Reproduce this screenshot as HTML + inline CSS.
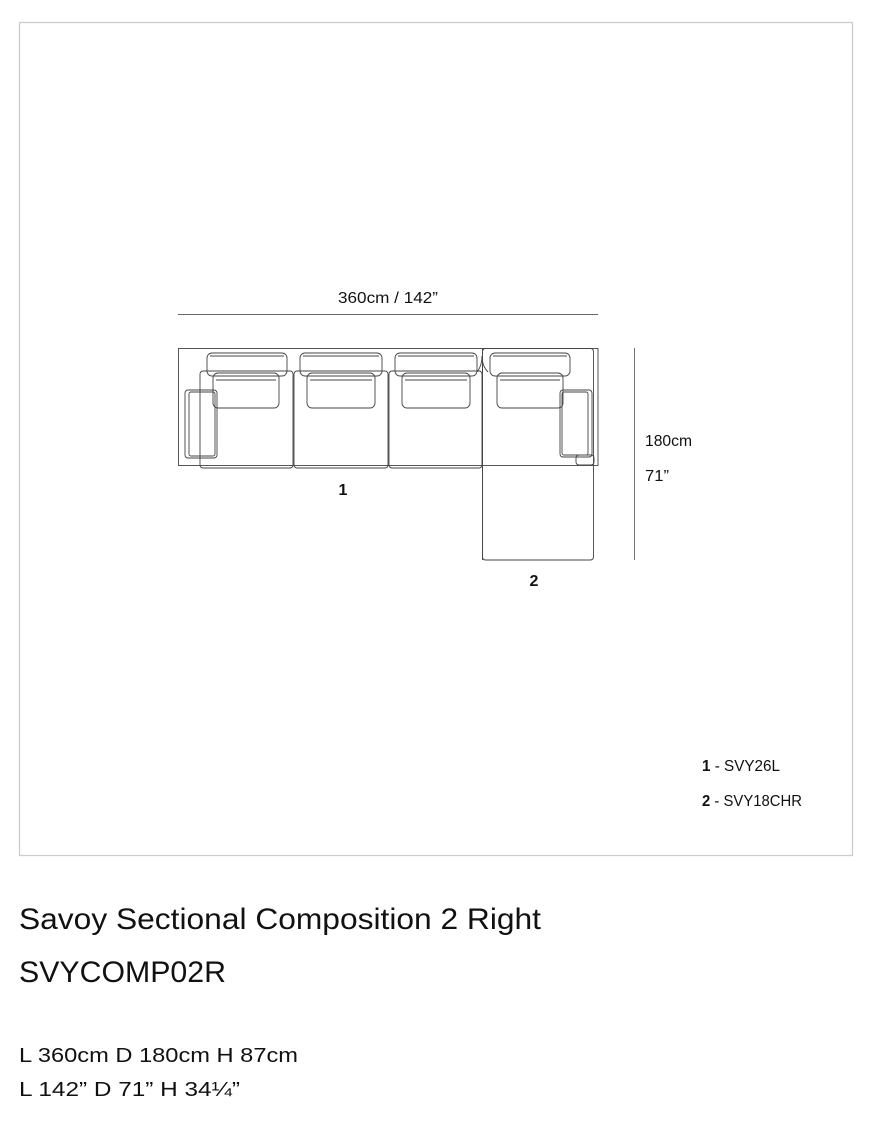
<!DOCTYPE html>
<html><head><meta charset="utf-8"><style>
html,body{margin:0;padding:0;background:#fff;width:888px;height:1144px;overflow:hidden}
svg{display:block}
.n{font-family:"Liberation Sans Narrow","Liberation Sans",sans-serif;fill:#111}
.t{font-family:"Liberation Sans",sans-serif;fill:#111}
</style></head><body>
<svg width="888" height="1144" viewBox="0 0 888 1144" xmlns="http://www.w3.org/2000/svg">
<rect x="19.5" y="22.5" width="833" height="833" fill="none" stroke="#ccc" stroke-width="1.3"/>
<g fill="none" stroke="#444" stroke-width="0.9">
<line x1="178" y1="314.5" x2="598" y2="314.5" stroke="#666"/>
<line x1="634.5" y1="348" x2="634.5" y2="560" stroke="#666"/>
<!-- outer frame -->
<rect x="178.5" y="348.5" width="419.5" height="117"/>
<!-- seat bases -->
<rect x="200" y="371" width="93" height="97" rx="3"/>
<rect x="294" y="371" width="94" height="97" rx="3"/>
<rect x="389" y="371" width="93" height="97" rx="3"/>
<rect x="482.5" y="348.5" width="111" height="211.5" rx="3"/>
<line x1="482.5" y1="348" x2="482.5" y2="560"/>
<!-- arms -->
<rect x="185" y="390" width="32" height="68" rx="3"/>
<rect x="189" y="392" width="26" height="64" rx="2"/>
<rect x="560" y="390" width="32" height="67" rx="3"/>
<rect x="562" y="392" width="26" height="63" rx="2"/>
<rect x="576" y="455" width="18" height="10" rx="3"/>
<!-- back cushions -->
<rect x="207" y="353" width="80" height="23" rx="5"/>
<rect x="300" y="353" width="82" height="23" rx="5"/>
<rect x="395" y="353" width="82" height="23" rx="5"/>
<rect x="490" y="353" width="80" height="23" rx="5"/>
<line x1="210" y1="356" x2="284" y2="356"/>
<line x1="303" y1="356" x2="379" y2="356"/>
<line x1="398" y1="356" x2="474" y2="356"/>
<line x1="493" y1="356" x2="567" y2="356"/>
<!-- seat cushions -->
<rect x="213" y="373" width="66" height="35" rx="5"/>
<rect x="307" y="373" width="68" height="35" rx="5"/>
<rect x="402" y="373" width="68" height="35" rx="5"/>
<rect x="497" y="373" width="66" height="35" rx="5"/>
<line x1="216" y1="380" x2="276" y2="380"/>
<line x1="310" y1="380" x2="372" y2="380"/>
<line x1="405" y1="380" x2="467" y2="380"/>
<line x1="500" y1="380" x2="560" y2="380"/>
<path d="M477 372 Q482 366 482 356 Q482 366 488 372"/>
</g>
<text class="n" x="388" y="303" font-size="16" text-anchor="middle" textLength="100" lengthAdjust="spacingAndGlyphs">360cm / 142”</text>
<text class="n" x="343" y="495" font-size="16" font-weight="bold" text-anchor="middle">1</text>
<text class="n" x="534" y="586" font-size="16" font-weight="bold" text-anchor="middle">2</text>
<text class="n" x="645" y="446" font-size="16" textLength="47" lengthAdjust="spacingAndGlyphs">180cm</text>
<text class="n" x="645" y="481" font-size="16" textLength="24" lengthAdjust="spacingAndGlyphs">71”</text>
<text class="n" x="702" y="771" font-size="16" textLength="78" lengthAdjust="spacingAndGlyphs"><tspan font-weight="bold">1</tspan> - SVY26L</text>
<text class="n" x="702" y="806" font-size="16" textLength="100" lengthAdjust="spacingAndGlyphs"><tspan font-weight="bold">2</tspan> - SVY18CHR</text>
<text class="t" x="19" y="929" font-size="30" textLength="522" lengthAdjust="spacingAndGlyphs">Savoy Sectional Composition 2 Right</text>
<text class="t" x="19" y="982" font-size="30" textLength="207" lengthAdjust="spacingAndGlyphs">SVYCOMP02R</text>
<text class="t" x="19" y="1062" font-size="20" textLength="279" lengthAdjust="spacingAndGlyphs">L 360cm D 180cm H 87cm</text>
<text class="t" x="19" y="1096" font-size="20" textLength="221" lengthAdjust="spacingAndGlyphs">L 142” D 71” H 34¼”</text>
</svg>
</body></html>
